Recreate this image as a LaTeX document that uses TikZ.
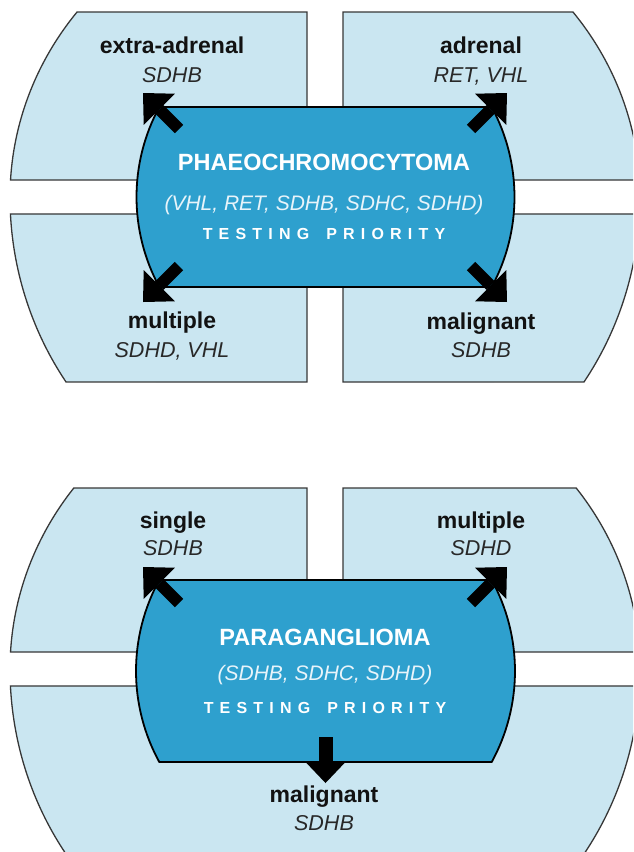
\documentclass[tikz,border=0pt]{standalone}
\usepackage{fontspec}
\setmainfont{Liberation Sans}
\usetikzlibrary{arrows.meta,calc}

\definecolor{quadfill}{RGB}{202,230,241}
\definecolor{quadline}{RGB}{55,55,55}
\definecolor{corefill}{RGB}{46,160,206}
\definecolor{labeltext}{RGB}{18,18,18}
\definecolor{genetext}{RGB}{40,40,40}
\definecolor{corelisttext}{RGB}{232,244,250}

% letter-spaced "TESTING PRIORITY"
\newlength\trk
\setlength\trk{6.2pt}
\newcommand\prioritytext{T\kern\trk E\kern\trk S\kern\trk T\kern\trk I\kern\trk N\kern\trk G\kern17pt P\kern\trk R\kern\trk I\kern\trk O\kern\trk R\kern\trk I\kern\trk T\kern\trk Y}

\tikzset{
  quad/.style={fill=quadfill, draw=quadline, line width=1.3pt},
  core/.style={fill=corefill, draw=black, line width=1.8pt},
  site/.style={font=\bfseries\fontsize{23}{23}\selectfont, text=labeltext, anchor=base, inner sep=0pt},
  genes/.style={font=\itshape\fontsize{21.5}{21.5}\selectfont, text=genetext, anchor=base, inner sep=0pt},
  coretitle/.style={font=\bfseries\fontsize{23.5}{23.5}\selectfont, text=white, anchor=base, inner sep=0pt},
  corelist/.style={font=\itshape\fontsize{21}{21}\selectfont, text=corelisttext, anchor=base, inner sep=0pt},
  priority/.style={font=\bfseries\fontsize{16}{16}\selectfont, text=white, anchor=base, inner sep=0pt},
  pointer/.style={draw=black, line width=12pt,
    -{Triangle[width=44pt, length=23pt, line width=0pt]}},
  downpointer/.style={draw=black, line width=14pt,
    -{Triangle[width=40pt, length=21pt, line width=0pt]}},
}

\begin{document}
\begin{tikzpicture}[x=1pt, y=1pt]
\useasboundingbox (0,0) rectangle (633,-852);
\clip (0,0) rectangle (633,-852);

% ---------------- Phaeochromocytoma ----------------
\coordinate (O1) at (325,-197);
\coordinate (K1) at (325.5,-197);

% outer quadrants
\path[quad] (307,-12) -- (307,-180)
  -- ($(O1)+({180-asin(17/300)}:315 and 300)$)
  arc[start angle={180-asin(17/300)}, end angle={180-asin(185/300)}, x radius=315, y radius=300]
  -- cycle;
\path[quad] (343,-180) -- (343,-12)
  -- ($(O1)+({asin(185/300)}:315 and 300)$)
  arc[start angle={asin(185/300)}, end angle={asin(17/300)}, x radius=315, y radius=300]
  -- cycle;
\path[quad] (307,-214) -- (307,-382)
  -- ($(O1)+({180+asin(185/325)}:315 and 325)$)
  arc[start angle={180+asin(185/325)}, end angle={180+asin(17/325)}, x radius=315, y radius=325]
  -- cycle;
\path[quad] (343,-382) -- (343,-214)
  -- ($(O1)+({-asin(17/325)}:315 and 325)$)
  arc[start angle={-asin(17/325)}, end angle={-asin(185/325)}, x radius=315, y radius=325]
  -- cycle;

% central box
\path[core] ($(K1)+({180-asin(90/189)}:189)$)
  arc[start angle={180-asin(90/189)}, end angle={180+asin(90/189)}, radius=189]
  -- ($(K1)+({-asin(90/189)}:189)$)
  arc[start angle={-asin(90/189)}, end angle={asin(90/189)}, radius=189]
  -- cycle;

\node[coretitle] (pheo) at (324,-170) {PHAEOCHROMOCYTOMA};
\node[corelist] (pheogenes) at (324,-210) {(VHL, RET, SDHB, SDHC, SDHD)};
\node[priority] (pheoprio) at (324,-239) {\prioritytext};

\node[site] (extraadr) at (172,-53) {extra-adrenal};
\node[genes] (extraadrg) at (172,-82) {SDHB};
\node[site] (adr) at (481,-53) {adrenal};
\node[genes] (adrg) at (481,-82) {RET, VHL};
\node[site] (multi) at (172,-328) {multiple};
\node[genes] (multig) at (172,-357) {SDHD, VHL};
\node[site] (malig) at (481,-329) {malignant};
\node[genes] (maligg) at (481,-357) {SDHB};

\coordinate (p1s) at (179,-129);  \coordinate (p1e) at (143,-93);
\coordinate (p2s) at (471,-129);  \coordinate (p2e) at (507,-93);
\coordinate (p3s) at (179,-266);  \coordinate (p3e) at (143,-302);
\coordinate (p4s) at (471,-266);  \coordinate (p4e) at (507,-302);
\draw[pointer] (p1s) -- (p1e);
\draw[pointer] (p2s) -- (p2e);
\draw[pointer] (p3s) -- (p3e);
\draw[pointer] (p4s) -- (p4e);

% ---------------- Paraganglioma ----------------
\coordinate (O2) at (325,-669);
\coordinate (K2) at (325.5,-671);

\path[quad] (307,-488) -- (307,-652)
  -- ($(O2)+({180-asin(17/300)}:315 and 300)$)
  arc[start angle={180-asin(17/300)}, end angle={180-asin(181/300)}, x radius=315, y radius=300]
  -- cycle;
\path[quad] (343,-652) -- (343,-488)
  -- ($(O2)+({asin(181/300)}:315 and 300)$)
  arc[start angle={asin(181/300)}, end angle={asin(17/300)}, x radius=315, y radius=300]
  -- cycle;
\path[quad] ($(O2)+({180+asin(17/325)}:315 and 325)$)
  arc[start angle={180+asin(17/325)}, end angle={360-asin(17/325)}, x radius=315, y radius=325]
  -- cycle;

\path[core] ($(K2)+({180-asin(91/189.5)}:189.5)$)
  arc[start angle={180-asin(91/189.5)}, end angle={180+asin(91/189.5)}, radius=189.5]
  -- ($(K2)+({-asin(91/189.5)}:189.5)$)
  arc[start angle={-asin(91/189.5)}, end angle={asin(91/189.5)}, radius=189.5]
  -- cycle;

\node[coretitle] (para) at (325,-645) {PARAGANGLIOMA};
\node[corelist] (paragenes) at (325,-680) {(SDHB, SDHC, SDHD)};
\node[priority] (paraprio) at (325,-713) {\prioritytext};

\node[site] (single) at (173,-528) {single};
\node[genes] (singleg) at (173,-555) {SDHB};
\node[site] (multib) at (481,-528) {multiple};
\node[genes] (multibg) at (481,-555) {SDHD};
\node[site] (maligb) at (324,-802) {malignant};
\node[genes] (maligbg) at (324,-830) {SDHB};

\coordinate (q1s) at (179,-603);  \coordinate (q1e) at (143,-567);
\coordinate (q2s) at (471,-603);  \coordinate (q2e) at (507,-567);
\coordinate (q3s) at (325.5,-737); \coordinate (q3e) at (325.5,-783);
\draw[pointer] (q1s) -- (q1e);
\draw[pointer] (q2s) -- (q2e);
\draw[downpointer] (q3s) -- (q3e);
\end{tikzpicture}
\end{document}
